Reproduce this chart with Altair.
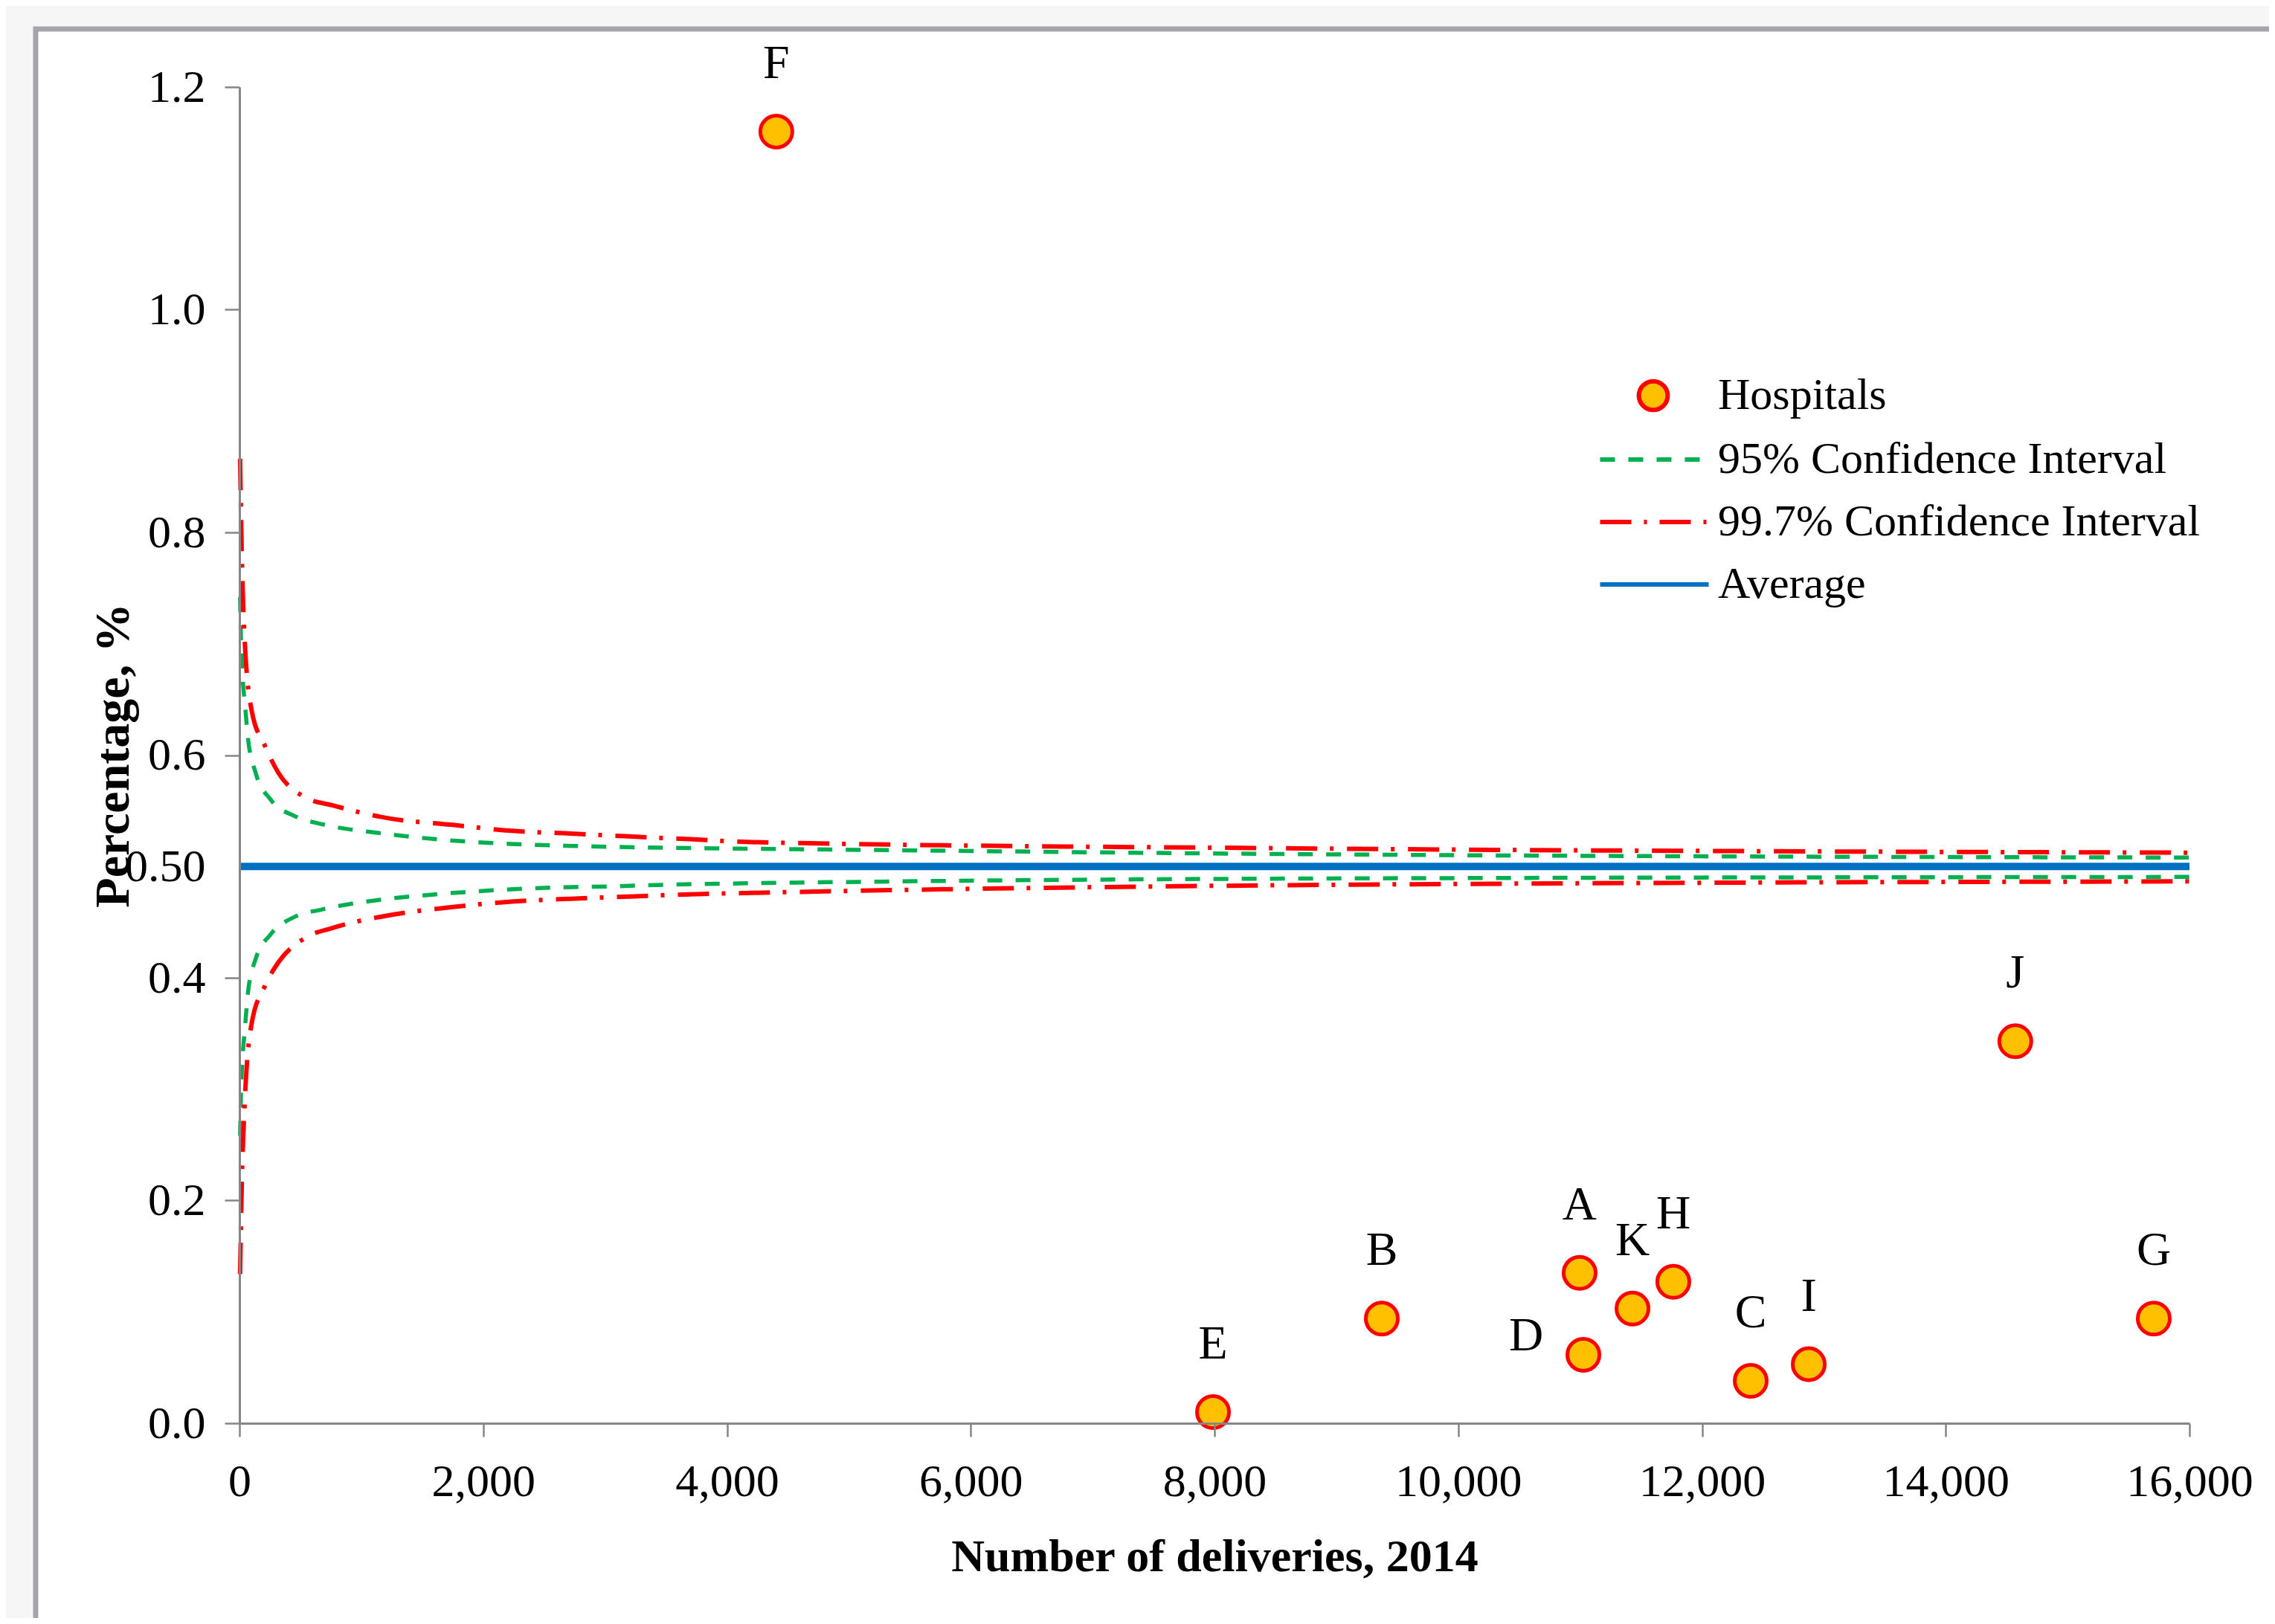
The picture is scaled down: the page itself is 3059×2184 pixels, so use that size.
import altair as alt
import pandas as pd

# ---------------- data ----------------
hospitals = ["A", "B", "C", "D", "E", "F", "G", "H", "I", "J", "K"]
deliveries = [10996, 9373, 12400, 11027, 7988, 4405, 15707, 11765, 12876, 14571, 11430]
percentage = [0.135, 0.094, 0.038, 0.0615, 0.010, 1.160, 0.094, 0.127, 0.053, 0.343, 0.103]

# 95% confidence interval (upper / lower)
x95 = [5, 12, 24, 45, 70, 133, 256, 458, 677, 1145, 1611, 2079, 2545, 3013, 3478, 4100, 4570, 8400, 16000]
up95 = [0.742, 0.705, 0.673, 0.646, 0.615, 0.584, 0.560, 0.545, 0.538, 0.530, 0.5245, 0.521, 0.519, 0.5177,
        0.5168, 0.516, 0.5155, 0.5113, 0.508]
lo95 = [0.258, 0.295, 0.325, 0.355, 0.387, 0.417, 0.439, 0.455, 0.4614, 0.470, 0.475, 0.4786, 0.481, 0.482,
        0.4835, 0.4848, 0.4855, 0.489, 0.4906]

# 99.7% confidence interval (upper / lower)
x997 = [5, 20, 42, 100, 210, 320, 540, 760, 1239, 1736, 2233, 2716, 3197, 3698, 4165, 4601, 8400, 16000]
up997 = [0.866, 0.775, 0.705, 0.640, 0.608, 0.584, 0.562, 0.555, 0.543, 0.5375, 0.532, 0.5296, 0.527, 0.5245,
         0.522, 0.521, 0.5165, 0.5124]
lo997 = [0.134, 0.220, 0.285, 0.359, 0.393, 0.414, 0.436, 0.4447, 0.4564, 0.4634, 0.4684, 0.471, 0.473, 0.475,
         0.4762, 0.4772, 0.483, 0.4866]

# average
avg_x = [0, 16000]
avg_y = [0.5, 0.5]

x_ticks = [0, 2000, 4000, 6000, 8000, 10000, 12000, 14000, 16000]
y_ticks = [0.0, 0.2, 0.4, 0.5, 0.6, 0.8, 1.0, 1.2]

series_names = ["Hospitals", "95% Confidence Interval", "99.7% Confidence Interval", "Average"]
fill_range = ["#FFC000", "transparent", "transparent", "transparent"]
stroke_range = ["#FF0000", "#00B050", "#FF0000", "#0070C0"]
shape_range = [
    "M0.717,0A0.717,0.717,0,1,1,-0.717,0A0.717,0.717,0,1,1,0.717,0Z",
    "M-2.648,0H-1.907M-1.241,0H-0.5M0.167,0H0.907M1.574,0H2.315",
    "M-2.648,0H-1.093M-0.463,0H-0.315M0.315,0H1.87M2.5,0H2.648",
    "M-2.648,0H2.759",
]

# ---------------- tables ----------------
hosp_df = pd.DataFrame({"hospital": hospitals, "deliveries": deliveries, "pct": percentage})
hosp_df["series"] = "Hospitals"

df95 = pd.concat([
    pd.DataFrame({"x": x95, "y": up95, "bound": "upper"}),
    pd.DataFrame({"x": x95, "y": lo95, "bound": "lower"}),
])
df997 = pd.concat([
    pd.DataFrame({"x": x997, "y": up997, "bound": "upper"}),
    pd.DataFrame({"x": x997, "y": lo997, "bound": "lower"}),
])
avg_df = pd.DataFrame({"x": avg_x, "y": avg_y})

FONT = "Liberation Serif"
W, H = 2622, 1797
AXC = "#868686"

xs = alt.Scale(domain=[0, 16000], nice=False, zero=False)
ys = alt.Scale(domain=[0, 1.2], nice=False)

xaxis = alt.Axis(
    title="Number of deliveries, 2014", values=x_ticks, format=",.0f", grid=False, zindex=1,
    tickSize=18, tickWidth=2.5, tickColor=AXC, domainColor=AXC, domainWidth=3,
    labelFont=FONT, labelFontSize=62, labelColor="black", labelPadding=30,
    labelFlush=False, labelOverlap=False,
    titleFont=FONT, titleFontSize=62, titleFontWeight="bold", titleColor="black",
    titleY=198, titleBaseline="alphabetic",
)
yaxis = alt.Axis(
    title="Percentage, %", values=y_ticks, grid=False, zindex=1,
    labelExpr="datum.value == 0.5 ? '0.50' : format(datum.value, '.1f')",
    tickSize=20, tickWidth=2.5, tickColor=AXC, domainColor=AXC, domainWidth=3,
    tickOpacity={"condition": {"test": "datum.value == 0.5", "value": 0}, "value": 1},
    labelFont=FONT, labelFontSize=62, labelColor="black", labelPadding=26,
    labelFlush=False, labelOverlap=False,
    titleFont=FONT, titleFontSize=66, titleFontWeight="bold", titleColor="black",
    titleAngle=270, titleX=-150, titleY=H / 2, titleAlign="center", titleBaseline="alphabetic",
)

frame = alt.Chart(alt.Data(values=[{"k": 1}])).mark_rect(
    fill="white", stroke="#a6a6aa", strokeWidth=7
).encode(
    x=alt.value(-274), x2=alt.value(W + 300), y=alt.value(-78), y2=alt.value(H + 400)
)

green = alt.Chart(df95).mark_line(
    color="#00B050", strokeWidth=5.5, strokeDash=[20, 18], interpolate="monotone"
).encode(
    x=alt.X("x:Q", scale=xs, axis=xaxis),
    y=alt.Y("y:Q", scale=ys, axis=yaxis),
    detail="bound:N",
    order="x:Q",
)

red = alt.Chart(df997).mark_line(
    color="#FF0000", strokeWidth=6, strokeDash=[42, 17, 5, 18], interpolate="monotone"
).encode(
    x=alt.X("x:Q", scale=xs),
    y=alt.Y("y:Q", scale=ys),
    detail="bound:N",
    order="x:Q",
)

avg = alt.Chart(avg_df).mark_line(color="#0070C0", strokeWidth=10).encode(
    x=alt.X("x:Q", scale=xs),
    y=alt.Y("y:Q", scale=ys),
)

legend = alt.Legend(
    title=None, orient="none", legendX=1871, legendY=385, padding=0,
    symbolSize=2916, symbolStrokeWidth=6, symbolOpacity=1,
    symbolFillColor="transparent", symbolStrokeColor="transparent",
    labelFont=FONT, labelFontSize=60, labelColor="black", labelOffset=57,
    labelLimit=2000, rowPadding=24,
)

points = alt.Chart(hosp_df).mark_point(size=3600, strokeWidth=5, opacity=1).encode(
    x=alt.X("deliveries:Q", scale=xs),
    y=alt.Y("pct:Q", scale=ys),
    fill=alt.Fill("series:N", scale=alt.Scale(domain=series_names, range=fill_range), legend=legend),
    stroke=alt.Stroke("series:N", scale=alt.Scale(domain=series_names, range=stroke_range), legend=legend),
    shape=alt.Shape("series:N", scale=alt.Scale(domain=series_names, range=shape_range), legend=legend),
)

labels = alt.Chart(hosp_df).transform_filter("datum.hospital != 'D'").mark_text(
    font=FONT, fontSize=64, color="black", dy=-72, baseline="alphabetic", align="center"
).encode(
    x=alt.X("deliveries:Q", scale=xs),
    y=alt.Y("pct:Q", scale=ys),
    text="hospital:N",
)

label_d = alt.Chart(hosp_df).transform_filter("datum.hospital == 'D'").mark_text(
    font=FONT, fontSize=64, color="black", dx=-77, dy=-6, baseline="alphabetic", align="center"
).encode(
    x=alt.X("deliveries:Q", scale=xs),
    y=alt.Y("pct:Q", scale=ys),
    text="hospital:N",
)

chart = alt.layer(frame, green, red, avg, points, labels, label_d).properties(
    width=W, height=H,
    autosize=alt.AutoSizeParams(type="none"),
    padding={"left": 314, "top": 109, "right": 107, "bottom": 262},
    background="#f6f6f6",
).configure_view(strokeWidth=0)

chart.save("out.html", embed_options={"renderer": "svg", "actions": False})
